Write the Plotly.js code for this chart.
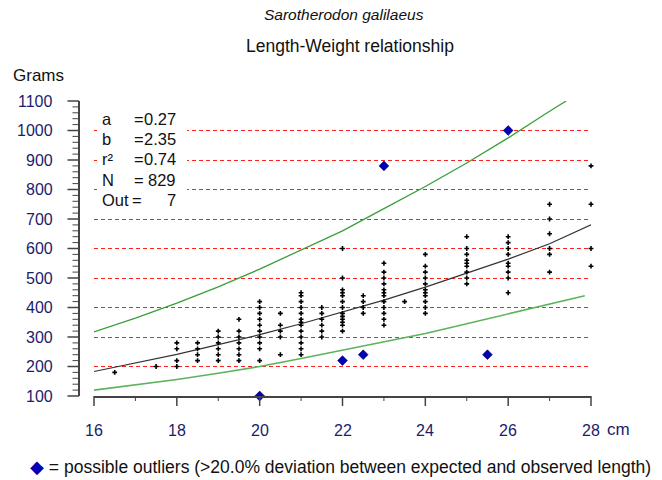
<!DOCTYPE html>
<html><head><meta charset="utf-8">
<script src="https://cdn.plot.ly/plotly-3.0.1.min.js"></script>
<style>html,body{margin:0;padding:0;background:#fff}#chart{width:662px;height:480px}</style>
</head><body><div id="chart"></div>
<script>
// ---- data ----
const sampleLengths = [16.5, 17.5, 18, 18.5, 19, 19.5, 20, 20.5, 21, 21.5, 22, 22.5, 23, 23.5, 24, 25, 26, 27, 28];
const sampleWeights = [
  [180],
  [200],
  [200, 220, 260, 280],
  [220, 240, 260, 280],
  [220, 240, 260, 280, 300, 320],
  [220, 240, 260, 280, 300, 320, 360],
  [220, 260, 280, 300, 320, 340, 360, 380, 400, 420],
  [240, 300, 320, 340, 380],
  [240, 260, 280, 300, 320, 340, 350, 360, 380, 400, 420, 440, 450],
  [300, 320, 340, 360, 380, 400],
  [320, 340, 350, 360, 370, 380, 400, 420, 440, 450, 460, 500, 600],
  [380, 400, 420, 440],
  [340, 360, 380, 400, 420, 440, 450, 460, 480, 500, 520, 550],
  [420],
  [380, 400, 420, 440, 450, 460, 480, 500, 520, 540, 580],
  [480, 500, 520, 540, 550, 560, 580, 600, 640],
  [450, 500, 520, 540, 550, 580, 600, 620, 640],
  [520, 580, 600, 650, 700, 750],
  [540, 600, 750, 880]
];
const outlierLength = [20, 22, 22.5, 23, 25.5, 26];
const outlierWeight = [100, 220, 240, 880, 240, 1000];

const fitLength = [16, 17, 18, 19, 20, 21, 22, 23, 24, 25, 26, 27, 28];
const fitWeight = [183, 211, 241, 274, 308, 345, 384, 425, 469, 516, 564, 616, 680];

const upperLength = [16, 17, 18, 19, 20, 21, 22, 23, 24, 25, 26, 27, 27.4];
const upperWeight = [317, 364, 415, 470, 530, 595, 660, 735, 810, 890, 975, 1065, 1100];

const lowerLength = [16, 17, 18, 19, 20, 21, 22, 23, 24, 25, 26, 27, 27.85];
const lowerWeight = [120, 137, 156, 177, 200, 227, 255, 282, 312, 345, 378, 412, 440];

const statLabels = ["a", "b", "r²", "N", "Out"];
const statValues = ["0.27", "2.35", "0.74", "829", "7"];

const xTickVals = [16, 18, 20, 22, 24, 26, 28];
const yTickVals = [100, 200, 300, 400, 500, 600, 700, 800, 900, 1000, 1100];
const xMinorPerMajor = 2;   // 1 cm minor steps
const yMinorPerMajor = 5;   // 20 g minor steps

// ---- build ----
const obsX = [], obsY = [];
sampleLengths.forEach((l, i) => sampleWeights[i].forEach(w => { obsX.push(l); obsY.push(w); }));

const FONT = "Liberation Sans, Arial, sans-serif";
const TICKCOL = "#1c1c6c";
const AXCOL = "#444";
const L = 79, T = 101, PW = 512, PH = 295;
const px = x => (x - L) / PW;
const py = y => (T + PH - y) / PH;

const traces = [
  {x: upperLength, y: upperWeight, mode: "lines", line: {color: "#3a9e3a", width: 1.3}, cliponaxis: false, hoverinfo: "skip"},
  {x: lowerLength, y: lowerWeight, mode: "lines", line: {color: "#5cb35c", width: 1.6}, cliponaxis: false, hoverinfo: "skip"},
  {x: fitLength, y: fitWeight, mode: "lines", line: {color: "#333333", width: 1.2}, cliponaxis: false, hoverinfo: "skip"},
  {x: obsX, y: obsY, mode: "markers", marker: {symbol: "cross", size: 4, color: "#000"}, cliponaxis: false},
  {x: outlierLength, y: outlierWeight, mode: "markers", marker: {symbol: "diamond", size: 7.5, color: "#0000b4", line: {color: "#000060", width: 0.6}}, cliponaxis: false}
];

const ann = [];
const txt = (text, x, y, xa, size, color) => ({
  text, xref: "paper", yref: "paper", x: px(x), y: py(y), xanchor: xa, yanchor: "middle",
  showarrow: false, font: {family: FONT, size, color}
});

ann.push(txt("<i>Sarotherodon galilaeus</i>", 344, 15, "center", 15.5, "#111"));
ann.push(txt("Length-Weight relationship", 350, 46, "center", 17.5, "#111"));
ann.push(txt("Grams", 11, 75, "left", 17, "#111"));
ann.push(txt("cm", 605, 429, "left", 17, TICKCOL));
const rowY = [119, 139, 159, 180, 200];
statLabels.forEach((s, i) => {
  ann.push(txt(s, 100, rowY[i], "left", 16.5, "#111"));
  ann.push(txt("=", i === 4 ? 130 : 132, rowY[i], "left", 16.5, "#111"));
  ann.push(txt(statValues[i], 178, rowY[i], "right", 16.5, "#111"));
});
ann.push(txt("<span style='color:#0000b4'>◆</span> = possible outliers (>20.0% deviation between expected and observed length)", 28, 467, "left", 17.5, "#111"));

// tick labels placed through the axes' own scales
xTickVals.forEach(v => ann.push({
  text: String(v), xref: "x", yref: "paper", x: v, y: py(430), xanchor: "center", yanchor: "middle",
  showarrow: false, font: {family: FONT, size: 16, color: TICKCOL}
}));
yTickVals.forEach(v => ann.push({
  text: String(v), xref: "paper", yref: "y", x: px(55), y: v, xanchor: "right", yanchor: "middle",
  showarrow: false, font: {family: FONT, size: 16, color: TICKCOL}
}));

// tick marks as arrow-only annotations (head on the axis, tail outside)
const tickMark = (spec, w) => Object.assign({
  text: " ", showarrow: true, arrowhead: 0, arrowwidth: w, arrowcolor: AXCOL,
  standoff: 0, startstandoff: 0, borderpad: 0, font: {size: 1, color: "rgba(0,0,0,0)"}
}, spec);
const xTick = (v, len, w) => ann.push(tickMark({xref: "x", yref: "paper", x: v, y: 0, ax: 0, ay: len + 1}, w));
const yTick = (v, len, w) => ann.push(tickMark({xref: "paper", yref: "y", x: 0, y: v, ax: -(len + 1), ay: 0}, w));
xTickVals.forEach((v, i) => {
  xTick(v, 10, 1.5);
  if (i < xTickVals.length - 1) {
    const step = (xTickVals[i + 1] - v) / xMinorPerMajor;
    for (let k = 1; k < xMinorPerMajor; k++) xTick(v + k * step, 5, 1);
  }
});
yTickVals.forEach((v, i) => {
  yTick(v, 11, 1.5);
  if (i < yTickVals.length - 1) {
    const step = (yTickVals[i + 1] - v) / yMinorPerMajor;
    for (let k = 1; k < yMinorPerMajor; k++) yTick(v + k * step, 6, 1);
  }
});

const layout = {
  width: 662, height: 480,
  margin: {l: L, r: 662 - L - PW, t: T, b: 480 - T - PH, pad: 0},
  paper_bgcolor: "#fff", plot_bgcolor: "#fff",
  showlegend: false,
  xaxis: {
    domain: [15 / PW, 1], range: [16, 28],
    tickmode: "linear", tick0: xTickVals[0], dtick: xTickVals[1] - xTickVals[0],
    ticks: "", showline: true, linecolor: AXCOL, linewidth: 2, showgrid: false, zeroline: false,
    showticklabels: false
  },
  yaxis: {
    range: [100, 1100],
    tickmode: "linear", tick0: yTickVals[0], dtick: yTickVals[1] - yTickVals[0],
    anchor: "free", position: 0,
    ticks: "", showline: true, linecolor: AXCOL, linewidth: 2, zeroline: false,
    showgrid: true, gridcolor: "#ff2020", gridwidth: 1, griddash: "4px,3px",
    showticklabels: false
  },
  shapes: [
    {type: "rect", xref: "paper", yref: "paper", x0: px(97), x1: px(187), y0: py(207), y1: py(106),
     fillcolor: "#fff", line: {width: 0}, layer: "above"}
  ],
  annotations: ann
};

Plotly.newPlot("chart", traces, layout, {staticPlot: true, displayModeBar: false});
</script>
</body></html>
